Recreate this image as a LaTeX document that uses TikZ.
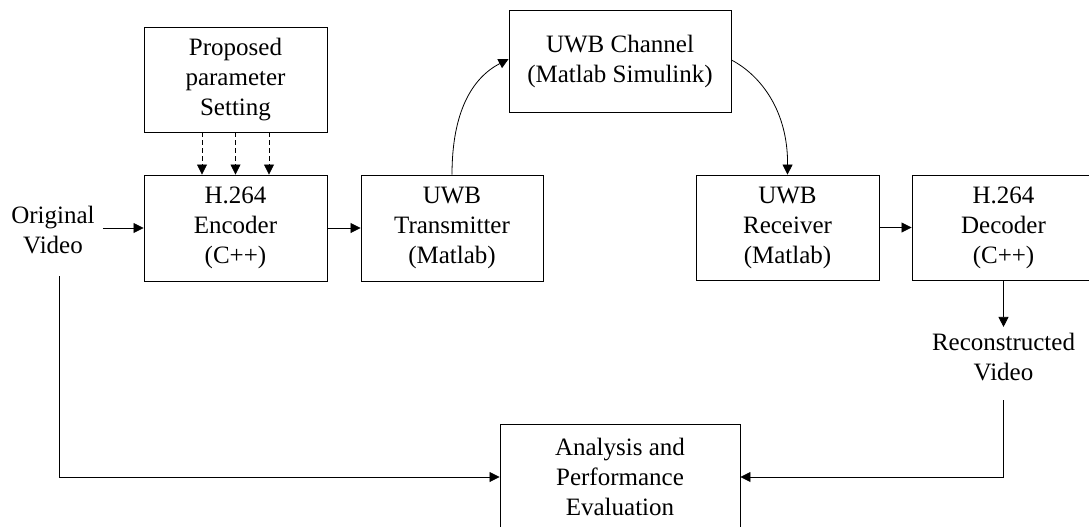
\documentclass[tikz,border=0pt]{standalone}
\usepackage{fontspec}
\setmainfont{Liberation Serif}
\usetikzlibrary{arrows.meta}
\begin{document}
\begin{tikzpicture}[x=1pt,y=-1pt,
  font=\fontsize{25}{30}\selectfont,
  block/.style={draw, line width=0.9pt, align=center, inner sep=0pt},
  label/.style={align=center, inner sep=8pt},
  flow/.style={line width=0.8pt, -{Triangle[length=10pt,width=10pt]}},
  hint/.style={flow, dash pattern=on 5pt off 3pt}]
\useasboundingbox (0,0) rectangle (1089,527);

% processing blocks
\node[block, minimum width=183pt, minimum height=105pt] (prop) at (235.5,79.5) {Proposed\\parameter\\Setting};
\node[block, minimum width=183pt, minimum height=106pt] (enc) at (235.5,228) {H.264\\Encoder\\(C++)};
\node[block, minimum width=182pt, minimum height=106pt] (tx) at (452,228) {UWB\\Transmitter\\(Matlab)};
\node[block, minimum width=222pt, minimum height=102pt] (ch) at (620,61) {UWB Channel\\(Matlab Simulink)};
\node[block, minimum width=183pt, minimum height=105pt] (rx) at (787.5,227.5) {UWB\\Receiver\\(Matlab)};
\node[block, minimum width=183pt, minimum height=105pt] (dec) at (1003.5,227.5) {H.264\\Decoder\\(C++)};
\node[block, minimum width=240pt, minimum height=106pt] (ana) at (620,477) {Analysis and\\Performance\\Evaluation};

% free-standing labels
\node[label] (orig) at (53,230) {Original\\Video};
\node[label, inner sep=6pt] (recon) at (1003.5,357) {Reconstructed\\Video};
\coordinate (origtap) at (59,276);
\coordinate (recontap) at (1003.5,400);

% parameter hints
\foreach \dx in {-33.5,0,33.5}
  \draw[hint] ([xshift=\dx pt]prop.south) -- ([xshift=\dx pt]enc.north);

% main signal chain
\draw[flow] (orig.east |- enc.west) -- (enc.west);
\draw[flow] (enc.east) -- (tx.west);
\draw[flow] (tx.north) .. controls (452,112) and (472,78) .. ([yshift=2pt]ch.west);
\draw[flow] ([yshift=1pt]ch.east) .. controls (760,75) and (788,110) .. (rx.north);
\draw[flow] (rx.east) -- (dec.west);
\draw[flow] (dec.south) -- (recon.north);

% evaluation paths
\draw[flow] (origtap) |- (ana.west);
\draw[flow] (recontap) |- (ana.east);
\end{tikzpicture}
\end{document}
